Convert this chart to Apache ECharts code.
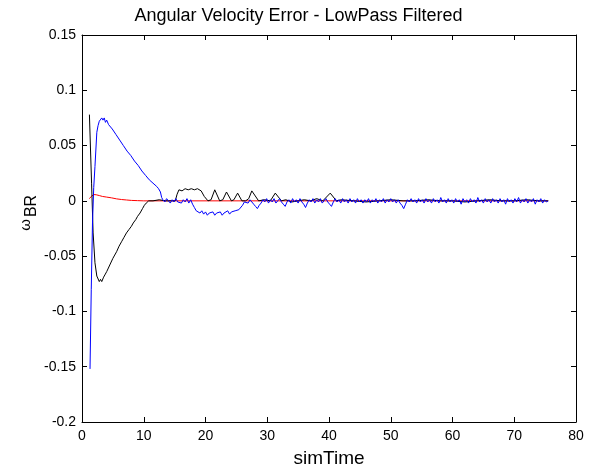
<!DOCTYPE html>
<html lang="en" style="height: 100%">
<head>
    <meta charset="utf-8">
    <script type="text/javascript" src="https://cdn.jsdelivr.net/npm/echarts@6/dist/echarts.min.js"></script>
</head>
<body style="height: 100%; margin: 0; background: #fff">
<div id="container" style="width: 597px; height: 473px"></div>

<script type="text/javascript">
    // 角速度误差 - 低通滤波后, [simTime, value]
    var blueData = [
      [1.3, -0.152], [1.5, -0.08], [1.7, -0.02], [1.9, 0.012], [2.1, 0.031], [2.4, 0.062], [2.6, 0.068],
      [2.8, 0.072], [3.0, 0.071], [3.2, 0.075], [3.4, 0.073], [3.6, 0.075], [3.8, 0.071], [4.0, 0.073],
      [4.3, 0.069], [4.6, 0.070], [4.9, 0.065], [5.2, 0.064], [5.5, 0.060], [5.8, 0.059], [6.1, 0.055],
      [6.4, 0.054], [6.7, 0.050], [7.0, 0.049], [7.3, 0.045], [7.6, 0.045], [7.9, 0.041], [8.2, 0.040],
      [8.5, 0.036], [8.8, 0.036], [9.1, 0.032], [9.4, 0.031], [9.7, 0.027], [10.0, 0.027], [10.3, 0.023],
      [10.6, 0.023], [10.9, 0.019], [11.2, 0.020], [11.5, 0.016], [11.8, 0.017], [12.1, 0.013], [12.4, 0.011],
      [12.7, 0.008], [12.9, 0.003],
      [13.1, 0.001], [13.4, -0.001], [13.7, 0.002], [14.0, 0.000], [14.3, -0.002], [14.6, 0.001],
      [14.9, -0.001], [15.2, 0.002], [15.5, -0.001], [15.8, 0.000], [16.1, -0.002], [16.4, 0.001],
      [16.7, -0.001], [17.0, 0.002], [17.3, -0.002], [17.6, 0.001], [17.9, -0.003], [18.2, -0.006],
      [18.5, -0.009], [18.8, -0.008], [19.1, -0.011], [19.4, -0.009], [19.7, -0.012], [20.0, -0.010],
      [20.3, -0.013], [20.6, -0.011], [20.9, -0.012], [21.2, -0.010], [21.5, -0.013], [21.8, -0.011],
      [22.1, -0.012], [22.4, -0.010], [22.7, -0.013], [23.0, -0.011], [23.3, -0.012], [23.6, -0.009],
      [23.9, -0.012], [24.2, -0.010], [24.5, -0.011], [24.8, -0.009], [25.1, -0.010], [25.4, -0.008],
      [25.7, -0.007], [26.0, -0.004], [26.3, -0.001], [26.6, 0.000], [26.9, -0.002], [27.2, 0.001],
      [27.5, -0.001], [27.8, -0.003], [28.1, -0.005], [28.4, -0.007], [28.7, -0.004], [29.0, -0.002],
      [29.3, 0.001], [29.6, -0.001], [29.9, 0.002], [30.2, -0.002], [30.5, 0.001], [30.8, -0.001],
      [31.1, 0.002], [31.4, -0.002], [31.7, 0.000], [32.0, 0.002], [32.3, -0.001], [32.6, -0.003],
      [32.9, -0.005], [33.2, -0.001], [33.5, 0.001], [33.8, -0.002], [34.1, 0.002], [34.4, -0.001],
      [34.7, 0.001], [35.0, -0.002], [35.3, 0.002], [35.6, -0.001], [35.9, -0.003], [36.2, -0.006],
      [36.5, -0.002], [36.8, 0.001], [37.1, -0.001], [37.4, 0.002], [37.7, -0.002], [38.0, 0.001],
      [38.3, -0.001], [38.6, 0.002], [38.9, -0.002], [39.2, 0.000], [39.5, 0.002], [39.8, -0.001],
      [40.1, -0.003], [40.4, -0.005], [40.7, -0.001], [41.0, 0.002], [41.3, -0.001], [41.6, 0.001],
      [41.9, -0.002], [42.2, 0.002], [42.5, -0.001], [42.8, 0.001], [43.1, -0.002], [43.4, 0.002],
      [43.7, -0.001], [44.0, 0.001], [44.3, -0.002], [44.6, 0.002], [44.9, -0.001], [45.2, 0.001],
      [45.5, -0.002], [45.8, 0.001], [46.1, -0.001], [46.4, 0.002], [46.7, -0.002], [47.0, 0.001],
      [47.3, -0.001], [47.6, 0.002], [47.9, -0.002], [48.2, 0.001], [48.5, -0.001], [48.8, 0.002],
      [49.1, -0.002], [49.4, 0.001], [49.7, -0.001], [50.0, 0.002], [50.3, -0.001], [50.6, 0.001],
      [50.9, -0.002], [51.2, 0.001], [51.5, -0.002], [51.8, -0.004], [52.1, -0.007], [52.4, -0.003],
      [52.7, 0.001], [53.0, -0.001], [53.3, 0.002], [53.6, -0.001], [53.9, 0.001], [54.2, -0.002],
      [54.5, 0.002], [54.8, -0.001], [55.1, 0.001], [55.4, -0.002], [55.7, 0.002], [56.0, -0.001],
      [56.3, 0.001], [56.6, -0.002], [56.9, 0.002], [57.2, -0.001], [57.5, 0.001], [57.8, -0.002],
      [58.1, 0.003], [58.4, -0.001], [58.7, 0.001], [59.0, -0.002], [59.3, 0.002], [59.6, -0.001],
      [59.9, 0.001], [60.2, -0.002], [60.5, 0.002], [60.8, -0.001], [61.1, 0.001], [61.4, -0.003],
      [61.7, 0.002], [62.0, -0.001], [62.3, 0.001], [62.6, -0.002], [62.9, 0.002], [63.2, -0.001],
      [63.5, 0.001], [63.8, -0.002], [64.1, 0.003], [64.4, -0.001], [64.7, 0.001], [65.0, -0.002],
      [65.3, 0.002], [65.6, -0.001], [65.9, 0.001], [66.2, -0.002], [66.5, 0.002], [66.8, -0.001],
      [67.1, 0.001], [67.4, -0.002], [67.7, 0.002], [68.0, -0.001], [68.3, 0.001], [68.6, -0.003],
      [68.9, 0.002], [69.2, -0.001], [69.5, 0.001], [69.8, -0.002], [70.1, 0.002], [70.4, -0.001],
      [70.7, 0.003], [71.0, -0.002], [71.3, 0.001], [71.6, -0.001], [71.9, 0.002], [72.2, -0.002],
      [72.5, 0.001], [72.8, -0.001], [73.1, 0.002], [73.4, -0.003], [73.7, 0.001], [74.0, -0.001],
      [74.3, 0.002], [74.6, -0.002], [74.9, 0.001], [75.2, -0.001], [75.5, 0.000]
    ];

    var blackData = [
      [1.2, 0.078], [1.55, 0.016], [1.8, -0.029], [2.1, -0.056], [2.4, -0.068], [2.8, -0.073],
      [3.0, -0.071], [3.2, -0.073], [3.5, -0.069], [3.7, -0.067], [4.0, -0.064], [4.5, -0.058],
      [5.0, -0.052], [5.3, -0.049], [5.6, -0.046], [6.0, -0.041], [6.4, -0.037], [6.8, -0.033],
      [7.2, -0.029], [7.6, -0.026], [8.0, -0.023], [8.3, -0.020], [8.7, -0.017], [9.0, -0.014],
      [9.4, -0.011], [9.8, -0.007], [10.1, -0.004], [10.4, -0.002], [10.8, 0.000], [11.5, 0.000],
      [12.5, 0.001], [13.5, 0.000], [14.5, 0.000], [15.1, 0.000], [15.4, 0.006], [15.7, 0.010],
      [16.2, 0.009], [16.7, 0.011], [17.2, 0.010], [17.7, 0.011], [18.2, 0.010], [18.7, 0.011],
      [19.0, 0.012], [19.3, 0.009], [19.8, 0.004], [20.4, 0.000], [20.9, 0.001], [21.5, 0.010],
      [22.3, 0.000], [22.8, 0.001], [23.4, 0.008], [24.2, 0.000], [24.6, 0.001], [25.2, 0.007],
      [25.9, 0.000], [26.5, 0.000], [27.0, 0.002], [27.5, 0.009], [28.6, 0.000], [29.5, 0.001],
      [30.5, 0.000], [31.3, 0.007], [32.3, 0.000], [33.0, 0.001], [34.0, -0.001], [35.0, 0.000],
      [36.0, 0.001], [37.0, 0.000], [38.0, 0.002], [39.0, 0.000], [40.2, 0.007], [41.2, 0.000],
      [42.0, 0.001], [44.0, 0.000], [46.0, -0.001], [48.0, 0.000], [50.0, 0.001], [52.0, 0.000],
      [54.0, 0.000], [56.0, 0.001], [58.0, 0.000], [60.0, 0.000], [62.0, -0.001], [64.0, 0.000],
      [66.0, 0.001], [68.0, 0.000], [70.0, 0.000], [72.0, 0.001], [74.0, 0.000], [75.5, 0.000]
    ];

    var redData = [
      [1.2, 0.002], [1.5, 0.004], [1.9, 0.0057], [2.3, 0.0055], [2.8, 0.0048], [3.3, 0.004],
      [4.0, 0.0034], [4.8, 0.0027], [5.6, 0.0018], [6.4, 0.0012], [7.2, 0.0008], [8.0, 0.0004],
      [9.0, 0.0002], [10.0, 0.0], [75.5, 0.0]
    ];

    var xTicks = { min: 0, max: 80, interval: 10 };
    var yTicks = { min: -0.2, max: 0.15, interval: 0.05 };

    var font = 'Liberation Sans, Arial, sans-serif';
    var dom = document.getElementById('container');
    var myChart = echarts.init(dom, null, { renderer: 'canvas' });

    var axisCommon = {
      type: 'value',
      axisLine: { show: true, onZero: false, lineStyle: { color: '#000', width: 1 } },
      axisTick: { show: true, inside: true, length: 5, lineStyle: { color: '#000' } },
      splitLine: { show: false }
    };

    var option = {
      backgroundColor: '#fff',
      animation: false,
      title: {
        text: 'Angular Velocity Error - LowPass Filtered',
        left: 'center',
        top: 2,
        textStyle: { fontFamily: font, fontSize: 18, fontWeight: 'normal', color: '#000' }
      },
      grid: { left: 82, right: 21, top: 35, bottom: 50 },
      xAxis: [
        Object.assign({}, axisCommon, {
          position: 'bottom',
          min: xTicks.min, max: xTicks.max, interval: xTicks.interval,
          name: 'simTime', nameLocation: 'middle', nameGap: 27,
          nameTextStyle: { fontFamily: font, fontSize: 19, color: '#000' },
          axisLabel: { fontFamily: font, fontSize: 14, color: '#000', margin: 7 }
        }),
        Object.assign({}, axisCommon, {
          position: 'top',
          min: xTicks.min, max: xTicks.max, interval: xTicks.interval,
          axisLabel: { show: false }
        })
      ],
      yAxis: [
        Object.assign({}, axisCommon, {
          position: 'left',
          min: yTicks.min, max: yTicks.max, interval: yTicks.interval,
          axisLabel: {
            fontFamily: font, fontSize: 14, color: '#000', margin: 6,
            formatter: function (v) { return String(+v.toFixed(2)); }
          }
        }),
        Object.assign({}, axisCommon, {
          position: 'right',
          min: yTicks.min, max: yTicks.max, interval: yTicks.interval,
          axisLabel: { show: false }
        })
      ],
      graphic: [
        {
          type: 'text', x: 26, y: 225, rotation: Math.PI / 2,
          style: { text: 'ω', fontFamily: font, fontSize: 15, fill: '#000', align: 'center', verticalAlign: 'middle' }
        },
        {
          type: 'text', x: 32, y: 206, rotation: Math.PI / 2,
          style: { text: 'BR', fontFamily: font, fontSize: 16, fill: '#000', align: 'center', verticalAlign: 'middle' }
        }
      ],
      series: [
        {
          type: 'line', data: redData, showSymbol: false,
          lineStyle: { color: '#ff0000', width: 1 }
        },
        {
          type: 'line', data: blackData, showSymbol: false,
          lineStyle: { color: '#000000', width: 1 }
        },
        {
          type: 'line', data: blueData, showSymbol: false,
          lineStyle: { color: '#0000ff', width: 1 }
        }
      ]
    };

    myChart.setOption(option);
    window.addEventListener('resize', myChart.resize);
</script>
</body>
</html>
